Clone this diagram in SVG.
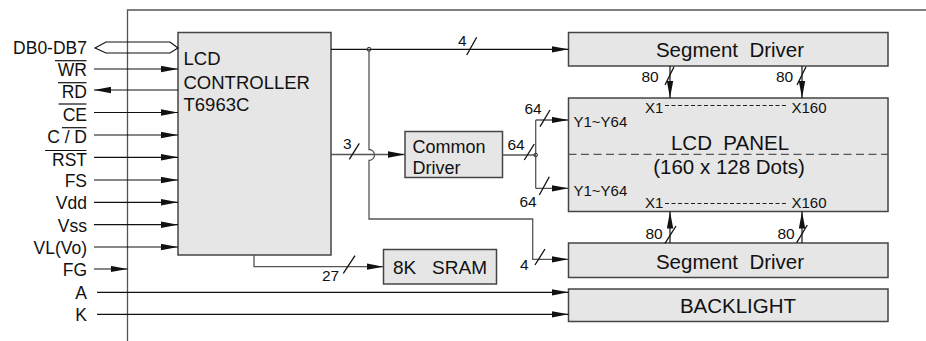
<svg xmlns="http://www.w3.org/2000/svg" width="926" height="341" viewBox="0 0 926 341">
<defs>
<style>
text{font-family:"Liberation Sans",Arial,sans-serif;fill:#111;white-space:pre}
.pin{font-size:17.5px;text-anchor:end}
.box{fill:#e6e6e6;stroke:#444;stroke-width:1.5}
.big{font-size:20.5px;text-anchor:middle}
.sm{font-size:15px}
.num{font-size:15.5px}
.w{fill:none;stroke:#111;stroke-width:1.2}
.g{fill:none;stroke:#555;stroke-width:1.3}
.sl{stroke:#111;stroke-width:1.3}
.ol{stroke:#111;stroke-width:1.2}
</style>
<marker id="ah" markerWidth="18" markerHeight="7" refX="17" refY="3.5" orient="auto" markerUnits="userSpaceOnUse">
<path d="M0,0.3 L17,3.5 L0,6.7 Z" fill="#111"/>
</marker>
</defs>
<rect width="926" height="341" fill="#fff"/>
<g id="frame">
<path d="M127.5,341 V10 H926" fill="none" stroke="#555" stroke-width="1.3"/>
</g>
<g id="pins">
<text class="pin" x="87" y="53.5">DB0-DB7</text>
<text class="pin" x="87" y="75.7">WR</text>
<text class="pin" x="87" y="97.7">RD</text>
<text class="pin" x="87" y="120.5">CE</text>
<text class="pin" x="87" y="143.3">C / D</text>
<text class="pin" x="87" y="165.7">RST</text>
<text class="pin" x="87" y="187">FS</text>
<text class="pin" x="87" y="209">Vdd</text>
<text class="pin" x="87" y="231.5">Vss</text>
<text class="pin" x="87" y="253.5">VL(Vo)</text>
<text class="pin" x="87" y="276">FG</text>
<text class="pin" x="87" y="298.5">A</text>
<text class="pin" x="87" y="320.7">K</text>
<line class="ol" x1="55" y1="60.7" x2="86.5" y2="60.7"/>
<line class="ol" x1="58" y1="82.7" x2="86.5" y2="82.7"/>
<line class="ol" x1="58.5" y1="104" x2="86.5" y2="104"/>
<line class="ol" x1="62" y1="127.7" x2="86.5" y2="127.7"/>
<line class="ol" x1="45" y1="150.5" x2="86.5" y2="150.5"/>
</g>
<g id="controller">
<rect class="box" x="178" y="32.5" width="153" height="222.5"/>
<text x="183.5" y="65" style="font-size:18.5px">LCD</text>
<text x="183.5" y="88.5" style="font-size:18.5px">CONTROLLER</text>
<text x="183.5" y="111" style="font-size:18.5px">T6963C</text>
</g>
<g id="common-driver">
<rect class="box" x="405" y="131.5" width="97.5" height="46"/>
<text x="412.5" y="152.5" style="font-size:18px">Common</text>
<text x="412.5" y="174" style="font-size:18px">Driver</text>
</g>
<g id="sram">
<rect class="box" x="383.5" y="249.5" width="113" height="34.5"/>
<text x="440" y="274" style="font-size:19px;text-anchor:middle">8K   SRAM</text>
</g>
<g id="segment-driver-top">
<rect class="box" x="568.5" y="32.5" width="319.5" height="33.5"/>
<text class="big" x="730" y="57.3">Segment  Driver</text>
</g>
<g id="lcd-panel">
<rect class="box" x="568.5" y="98" width="319.5" height="113.5"/>
<line x1="568.5" y1="154.3" x2="888" y2="154.3" stroke="#555" stroke-width="1.3" stroke-dasharray="8 4.5"/>
<text class="big" x="730" y="150">LCD  PANEL</text>
<text class="big" x="729" y="173.5">(160 x 128 Dots)</text>
<text class="sm" x="573.5" y="127.3">Y1~Y64</text>
<text class="sm" x="573.5" y="196">Y1~Y64</text>
<text class="sm" x="645" y="112.5">X1</text>
<text class="sm" x="791.5" y="112.5">X160</text>
<line x1="665" y1="105.5" x2="788" y2="105.5" stroke="#222" stroke-width="1.1" stroke-dasharray="4 2.5"/>
<text class="sm" x="645" y="207.5">X1</text>
<text class="sm" x="791.5" y="207.5">X160</text>
<line x1="665" y1="203.5" x2="788" y2="203.5" stroke="#222" stroke-width="1.1" stroke-dasharray="4 2.5"/>
</g>
<g id="segment-driver-bottom">
<rect class="box" x="568.5" y="243" width="319.5" height="34.5"/>
<text class="big" x="730" y="269.3">Segment  Driver</text>
</g>
<g id="backlight">
<rect class="box" x="568.5" y="289" width="319.5" height="32.5"/>
<text class="big" x="738" y="313.3">BACKLIGHT</text>
</g>
<g id="connectors">
<path class="w" d="M95,48 L106,42 H170 L178,48 L170,53 H106 Z" fill="#fff"/>
<path class="w" d="M94,69 H178" marker-end="url(#ah)"/>
<path class="w" d="M178,90 H94" marker-end="url(#ah)"/>
<path class="w" d="M94,112.5 H178" marker-end="url(#ah)"/>
<path class="w" d="M94,135 H178" marker-end="url(#ah)"/>
<path class="w" d="M94,157.3 H178" marker-end="url(#ah)"/>
<path class="w" d="M94,180 H178" marker-end="url(#ah)"/>
<path class="w" d="M94,202.3 H178" marker-end="url(#ah)"/>
<path class="w" d="M94,224.7 H178" marker-end="url(#ah)"/>
<path class="w" d="M94,247 H178" marker-end="url(#ah)"/>
<path class="w" d="M94,269 H127.5" marker-end="url(#ah)"/>
<path class="w" d="M97,292.3 H568.5" marker-end="url(#ah)"/>
<path class="w" d="M97,314.3 H568.5" marker-end="url(#ah)"/>
<path class="w" d="M331,49.3 H568.5" marker-end="url(#ah)"/>
<circle cx="369" cy="49.3" r="2" fill="none" stroke="#333" stroke-width="1"/>
<path class="g" d="M369,49.3 V149.5 A5.5,5.5 0 0 1 369,160.5 V219 H532.7 V259.3 H568.5" marker-end="url(#ah)"/>
<path class="g" d="M331,154.5 H405" marker-end="url(#ah)"/>
<path class="g" d="M502.5,155 H535.7"/>
<path class="g" d="M535.7,120 V188.3"/>
<circle cx="535.7" cy="155" r="1.8" fill="none" stroke="#333" stroke-width="1"/>
<path class="g" d="M535.7,120 H568.5" marker-end="url(#ah)"/>
<path class="g" d="M535.7,188.3 H568.5" marker-end="url(#ah)"/>
<path class="g" d="M254,255 V266.7 H383.5" marker-end="url(#ah)"/>
<path class="w" d="M670,66 V98" marker-end="url(#ah)"/>
<path class="w" d="M802,66 V98" marker-end="url(#ah)"/>
<path class="w" d="M670,243 V211.5" marker-end="url(#ah)"/>
<path class="w" d="M802,243 V211.5" marker-end="url(#ah)"/>
<line class="sl" x1="466.7" y1="55" x2="476.7" y2="37.3"/>
<line class="sl" x1="349.3" y1="159.3" x2="359.3" y2="143.3"/>
<line class="sl" x1="524.3" y1="160" x2="534.3" y2="144"/>
<line class="sl" x1="540" y1="126.7" x2="550" y2="110"/>
<line class="sl" x1="539.3" y1="195" x2="549.3" y2="176.7"/>
<line class="sl" x1="535" y1="265" x2="545" y2="249"/>
<line class="sl" x1="343.3" y1="273.3" x2="355" y2="255.7"/>
<line class="sl" x1="665" y1="85" x2="674" y2="66.7"/>
<line class="sl" x1="797" y1="85" x2="806" y2="66.7"/>
<line class="sl" x1="665" y1="243.3" x2="676" y2="226"/>
<line class="sl" x1="796.7" y1="242.7" x2="807.3" y2="225"/>
<text class="num" x="458" y="45.7">4</text>
<text class="num" x="343" y="149.3">3</text>
<text class="num" x="507.5" y="150">64</text>
<text class="num" x="524.5" y="114">64</text>
<text class="num" x="519.5" y="206.7">64</text>
<text class="num" x="520" y="270">4</text>
<text class="num" x="322" y="280.7">27</text>
<text class="num" x="641.5" y="82.3">80</text>
<text class="num" x="776" y="82.3">80</text>
<text class="num" x="645.5" y="239.3">80</text>
<text class="num" x="777.5" y="239.3">80</text>
</g>
</svg>
